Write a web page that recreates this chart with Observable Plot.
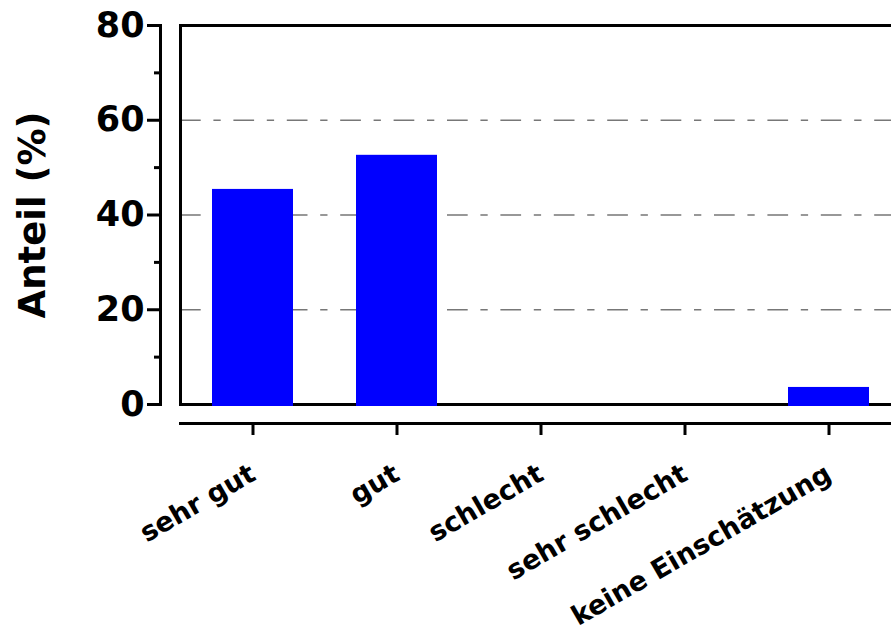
<!DOCTYPE html>
<html>
<head>
<meta charset="utf-8">
<script src="https://cdn.jsdelivr.net/npm/d3@7"></script>
<script src="https://cdn.jsdelivr.net/npm/@observablehq/plot@0.6"></script>
<style>
  html, body { margin: 0; padding: 0; background: #fff; overflow: hidden; }
  svg text { font-family: "DejaVu Sans", sans-serif; font-weight: bold; }
</style>
</head>
<body>
<div id="chart"></div>
<script>
const categories = ["sehr gut", "gut", "schlecht", "sehr schlecht", "keine Einschätzung"];
const values = [45.4, 52.6, 0, 0, 3.6];
const majorTicks = [0, 20, 40, 60, 80];
const minorTicks = [10, 30, 50, 70];
const gridValues = [20, 40, 60];
const yLabel = "Anteil (%)";

const data = categories.map((c, i) => ({category: c, value: values[i]}));

const chart = Plot.plot({
  width: 891,
  height: 633,
  marginTop: 25,
  marginBottom: 229,
  marginLeft: 180,
  marginRight: 0,
  style: {background: "#fff", color: "#000"},
  x: {type: "band", domain: categories, range: [180, 900], paddingInner: 0.44, paddingOuter: 0.22, align: 0.5},
  y: {domain: [0, 80]},
  marks: [
    Plot.ruleY(gridValues, {stroke: "#777", strokeWidth: 1.3, strokeDasharray: "20.7,12.7,7.3,12.7"}),
    Plot.frame({anchor: "top", stroke: "#000", strokeWidth: 3}),
    Plot.frame({anchor: "left", stroke: "#000", strokeWidth: 3}),
    Plot.frame({anchor: "bottom", stroke: "#000", strokeWidth: 3}),
    Plot.frame({anchor: "left", stroke: "#000", strokeWidth: 3, dx: -20}),
    Plot.frame({anchor: "bottom", stroke: "#000", strokeWidth: 3, dy: 19}),
    Plot.barY(data, {x: "category", y: "value", fill: "#0000ff", insetBottom: -2, filter: d => d.value > 0}),
    Plot.axisY(majorTicks, {anchor: "left", dx: -20, tickSize: 13, tickPadding: 3, strokeWidth: 3, fontSize: 35, label: null}),
    Plot.axisY([], {anchor: "left", dx: -20, tickSize: 0, fontSize: 37,
      label: yLabel, labelAnchor: "center", labelOffset: 162, labelArrow: "none"}),
    Plot.axisY(minorTicks, {anchor: "left", dx: -20, tickSize: 6, strokeWidth: 3, tickFormat: () => "", label: null}),
    Plot.axisX({anchor: "bottom", dy: 19, tickSize: 12, strokeWidth: 3, tickRotate: -30, fontSize: 27, tickPadding: 36, label: null})
  ]
});
document.getElementById("chart").appendChild(chart);
</script>
</body>
</html>
